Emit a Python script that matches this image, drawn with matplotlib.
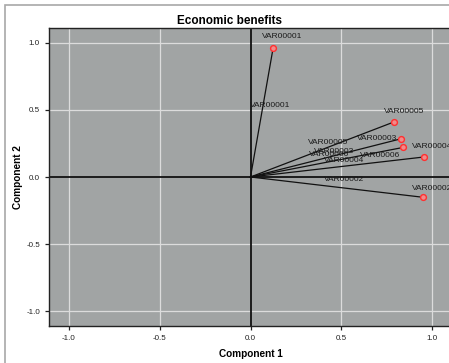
import matplotlib.pyplot as plt
import numpy as np

# component loadings
labels = ['VAR00001', 'VAR00002', 'VAR00003', 'VAR00004', 'VAR00005', 'VAR00006']
comp1 = [0.125, 0.95, 0.83, 0.955, 0.79, 0.84]
comp2 = [0.964, -0.151, 0.285, 0.149, 0.41, 0.22]
ticks = [-1.0, -0.5, 0.0, 0.5, 1.0]

# label offsets in pixels: at the point, and at the middle of each line
pt_off = [(9, 11), (9, 9), (-24, 0), (8, 10), (10, 10), (-23, -8)]
mid_off = [(7, 2), (0, 8), (2, 5), (0, 6), (0, 5), (-4, 7)]

plt.rcParams['font.family'] = ['Liberation Sans', 'DejaVu Sans']

fig = plt.figure(figsize=(4.49, 3.63), dpi=100)
# outer frame
fig.add_artist(plt.Rectangle((5 / 449, -0.1), 1.2, (363 - 4.5) / 363 + 0.1, transform=fig.transFigure,
                             fill=False, edgecolor='#a8a8a8', linewidth=1.2))
ax = fig.add_axes([49 / 449, 37 / 363, 403 / 449, 298 / 363])
ax.set_facecolor('#a1a4a4')
ax.set_xlim(-1.11, 1.11)
ax.set_ylim(-1.11, 1.11)
ax.set_xticks(ticks)
ax.set_yticks(ticks)
ax.set_xticklabels(['%.1f' % t for t in ticks])
ax.set_yticklabels(['%.1f' % t for t in ticks])
for t in ticks:
    if t != 0:
        ax.axvline(t, color='#dcdcdc', lw=0.9, zorder=0)
        ax.axhline(t, color='#dcdcdc', lw=0.9, zorder=0)
ax.axvline(0, color='#111111', lw=1.3, zorder=1)
ax.axhline(0, color='#111111', lw=1.3, zorder=1)

for i in range(len(labels)):
    x, y = comp1[i], comp2[i]
    ax.plot([0, x], [0, y], color='#111111', lw=0.9, zorder=2)
    ax.plot(x, y, marker='o', ms=4.2, mfc='#f08a8a', mec='#ff3030', mew=1.0, zorder=3)
    ax.annotate(labels[i], (x, y), xytext=pt_off[i], textcoords='offset pixels',
                ha='center', va='center', fontsize=6, color='#1a1a1a')
    ax.annotate(labels[i], (0.54 * x, 0.54 * y), xytext=mid_off[i], textcoords='offset pixels',
                ha='center', va='center', fontsize=6, color='#1a1a1a')

ax.tick_params(labelsize=5.8, length=3, width=0.9, colors='#222222')
for s in ax.spines.values():
    s.set_color('#222222')
    s.set_linewidth(1.0)

fig.text(229.5 / 449, 1 - 21 / 363, 'Economic benefits', ha='center', va='center',
         fontsize=8.5, fontweight='bold')
fig.text(251 / 449, 1 - 354 / 363, 'Component 1', ha='center', va='center',
         fontsize=7.2, fontweight='bold')
fig.text(18 / 449, 1 - 177 / 363, 'Component 2', ha='center', va='center',
         fontsize=7.2, fontweight='bold', rotation=90)

fig.savefig('out.png', dpi=100)
